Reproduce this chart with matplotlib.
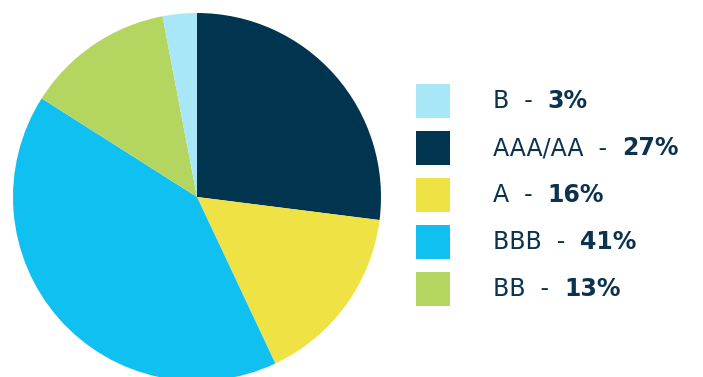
import matplotlib
matplotlib.use("Agg")
import matplotlib.pyplot as plt
from matplotlib.patches import Rectangle

# Data (pie order: clockwise from 12 o'clock)
pie_labels = ["AAA/AA", "A", "BBB", "BB", "B"]
pie_values = [27, 16, 41, 13, 3]
pie_colors = ["#01354F", "#EFE245", "#10C0F1", "#B4D660", "#A8E7F8"]

# Legend order
legend_labels = ["B", "AAA/AA", "A", "BBB", "BB"]

W, H = 703, 377
fig = plt.figure(figsize=(W / 100, H / 100), dpi=100)
fig.patch.set_facecolor("white")

# Pie axes: center (197,197) px from top-left, radius 184 px
cx, cy, r = 197, 197, 184
ax = fig.add_axes([(cx - r) / W, (H - cy - r) / H, 2 * r / W, 2 * r / H])
ax.pie(pie_values, colors=pie_colors, startangle=90, counterclock=False,
       radius=1, wedgeprops=dict(linewidth=0))
ax.set_xlim(-1, 1)
ax.set_ylim(-1, 1)
ax.set_aspect("equal")
ax.axis("off")

# Legend overlay axes in pixel coordinates
lax = fig.add_axes([0, 0, 1, 1])
lax.set_xlim(0, W)
lax.set_ylim(H, 0)
lax.axis("off")

value_of = dict(zip(pie_labels, pie_values))
color_of = dict(zip(pie_labels, pie_colors))
text_color = "#0B3350"
fam = ["DejaVu Sans"]

y0, dy = 101, 47
for i, lab in enumerate(legend_labels):
    yc = y0 + i * dy
    lax.add_patch(Rectangle((416, yc - 17), 34, 34, facecolor=color_of[lab], edgecolor="none"))
    t = lax.text(493, yc, f"{lab}  -  ", fontsize=17, family=fam, weight="normal",
                 color=text_color, va="center", ha="left")
    lax.annotate(f"{value_of[lab]}%", xy=(1, 0.5), xycoords=t, fontsize=17, family=fam,
                 weight="bold", color=text_color, va="center", ha="left",
                 xytext=(0, 0), textcoords="offset points")

fig.savefig("out.png", dpi=100, facecolor="white")
